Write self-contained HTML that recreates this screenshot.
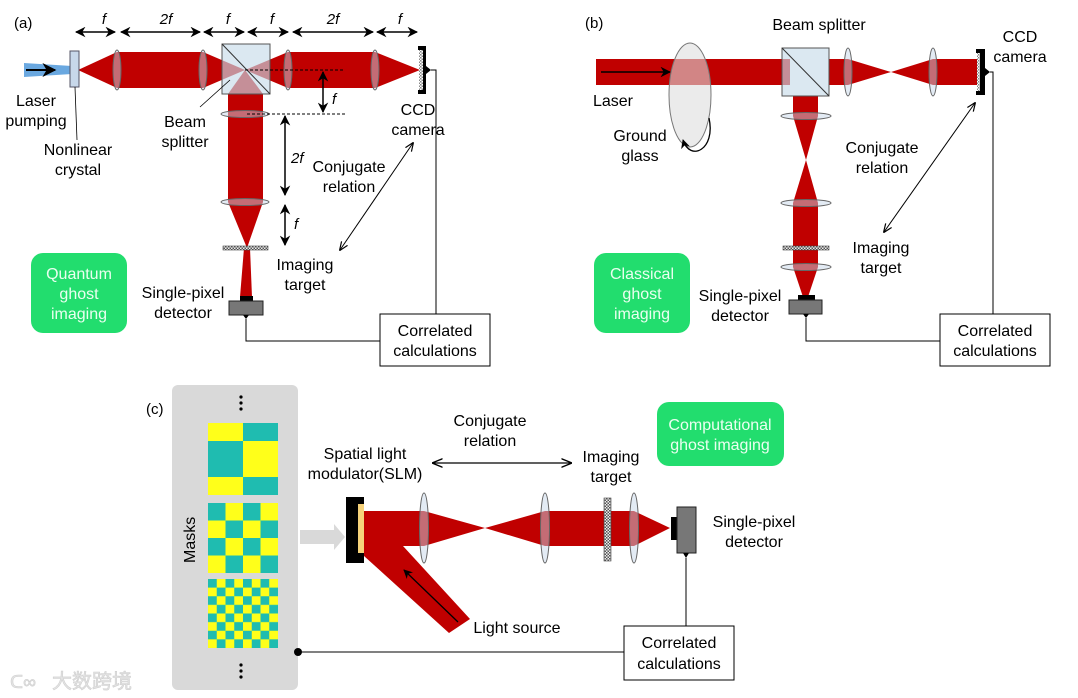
<!DOCTYPE html>
<html><head><meta charset="utf-8"><style>
html,body{margin:0;padding:0;background:#fff;}
svg{display:block;font-family:"Liberation Sans",Arial,sans-serif;}
</style></head><body>
<svg width="1078" height="698" viewBox="0 0 1078 698" xmlns="http://www.w3.org/2000/svg">
<defs>
<marker id="ah" viewBox="0 0 10 10" refX="9" refY="5" markerWidth="7" markerHeight="7" orient="auto-start-reverse"><path d="M0,0 L10,5 L0,10 L3,5 z" fill="#000"/></marker>
<marker id="ah2" viewBox="0 0 10 10" refX="9" refY="5" markerWidth="9" markerHeight="9" orient="auto-start-reverse"><path d="M0,1 L10,5 L0,9" fill="none" stroke="#000" stroke-width="1.3"/></marker>
<pattern id="hat" width="3" height="3" patternUnits="userSpaceOnUse"><rect width="3" height="3" fill="#eee"/><rect width="1.5" height="1.5" fill="#555"/><rect x="1.5" y="1.5" width="1.5" height="1.5" fill="#555"/></pattern>
<pattern id="ccd" width="3" height="3" patternUnits="userSpaceOnUse"><rect width="3" height="3" fill="#fff"/><rect width="1.5" height="1.5" fill="#888"/><rect x="1.5" y="1.5" width="1.5" height="1.5" fill="#888"/></pattern>
<pattern id="m2" width="35" height="35" patternUnits="userSpaceOnUse" x="208" y="503"><rect width="35" height="35" fill="#ffff1a"/><rect width="17.5" height="17.5" fill="#1fbcb0"/><rect x="17.5" y="17.5" width="17.5" height="17.5" fill="#1fbcb0"/></pattern>
<pattern id="m3" width="17.5" height="17.25" patternUnits="userSpaceOnUse" x="208" y="579"><rect width="17.5" height="17.25" fill="#ffff1a"/><rect width="8.75" height="8.6" fill="#1fbcb0"/><rect x="8.75" y="8.6" width="8.75" height="8.65" fill="#1fbcb0"/></pattern>
</defs>

<g font-size="15" fill="#000">
<!-- ============ (a) ============ -->
<text x="14" y="28">(a)</text>
<g stroke="#000" stroke-width="1.5" marker-start="url(#ah)" marker-end="url(#ah)">
<line x1="76" y1="32" x2="115" y2="32"/><line x1="121" y1="32" x2="200" y2="32"/>
<line x1="204" y1="32" x2="244" y2="32"/><line x1="248" y1="32" x2="288" y2="32"/>
<line x1="293" y1="32" x2="373" y2="32"/><line x1="377" y1="32" x2="417" y2="32"/>
</g>
<g font-style="italic" text-anchor="middle" font-size="15">
<text x="104" y="24">f</text><text x="166" y="24">2<tspan>f</tspan></text><text x="228" y="24">f</text>
<text x="272" y="24">f</text><text x="333" y="24">2f</text><text x="400" y="24">f</text>
</g>
<!-- blue pump -->
<polygon points="24,63 72,66 72,74 24,77" fill="#6aa8e0"/>
<line x1="26" y1="70" x2="55" y2="70" stroke="#000" stroke-width="2" marker-end="url(#ah)"/>
<!-- red beams -->
<polygon points="78,70 117,52 117,88" fill="#c00000"/>
<rect x="117" y="52" width="86" height="36" fill="#c00000"/>
<polygon points="203,52 245,70 203,88" fill="#c00000"/>
<polygon points="245,70 288,52 288,88" fill="#c00000"/>
<rect x="288" y="52" width="87" height="36" fill="#c00000"/>
<polygon points="375,52 420,70 375,88" fill="#c00000"/>
<polygon points="245,70 228,94 263,94" fill="#c00000"/>
<rect x="228" y="94" width="35" height="108" fill="#c00000"/>
<polygon points="228,202 263,202 247,248" fill="#c00000"/>
<polygon points="244,248 250,248 252,297 240,297" fill="#c00000"/>
<!-- crystal -->
<rect x="70" y="51" width="9" height="36" fill="#c8d8ea" stroke="#556" stroke-width="1"/>
<!-- lenses -->
<g fill="#c8d8ea" fill-opacity="0.5" stroke="#666" stroke-width="1">
<ellipse cx="117" cy="70" rx="4" ry="20"/><ellipse cx="203" cy="70" rx="4" ry="20"/>
<ellipse cx="288" cy="70" rx="4" ry="20"/><ellipse cx="375" cy="70" rx="4" ry="20"/>
<ellipse cx="245" cy="114" rx="24" ry="3.5"/><ellipse cx="245" cy="202" rx="24" ry="3.5"/>
</g>
<!-- BS -->
<rect x="222" y="44" width="48" height="50" fill="#c8dcea" fill-opacity="0.65" stroke="#555" stroke-width="1"/>
<line x1="222" y1="44" x2="270" y2="94" stroke="#333" stroke-width="1"/>
<!-- target -->
<rect x="223" y="246" width="45" height="4" fill="url(#hat)" stroke="#444" stroke-width="0.6"/>
<!-- detector -->
<rect x="240" y="296" width="13" height="5" fill="#000"/>
<rect x="229" y="301" width="34" height="14" fill="#777" stroke="#222" stroke-width="1"/>
<polygon points="243,315 249,315 246,319" fill="#000"/>
<!-- CCD -->
<path d="M418,46 h8 v48 h-8 v-4 h3 v-40 h-3 z" fill="#000"/>
<rect x="419" y="50" width="4" height="40" fill="url(#ccd)"/>
<polygon points="426,66 431,70 426,74" fill="#000"/>
<polyline points="431,70 436,70 436,314" fill="none" stroke="#000" stroke-width="1"/>
<polyline points="246,319 246,341 380,341" fill="none" stroke="#000" stroke-width="1"/>
<rect x="380" y="314" width="110" height="52" fill="#fff" stroke="#000" stroke-width="1"/>
<text x="435" y="336" text-anchor="middle" font-size="16">Correlated</text>
<text x="435" y="356" text-anchor="middle" font-size="16">calculations</text>
<!-- dashed -->
<line x1="245" y1="70" x2="345" y2="70" stroke="#000" stroke-width="1" stroke-dasharray="3,2"/>
<line x1="247" y1="114" x2="347" y2="114" stroke="#000" stroke-width="1" stroke-dasharray="3,2"/>
<g stroke="#000" stroke-width="1.5" marker-start="url(#ah)" marker-end="url(#ah)">
<line x1="323" y1="72" x2="323" y2="112"/><line x1="285" y1="116" x2="285" y2="195"/><line x1="285" y1="205" x2="285" y2="245"/>
</g>
<g font-style="italic" font-size="15"><text x="332" y="104">f</text><text x="291" y="163">2f</text><text x="294" y="229">f</text></g>
<line x1="413" y1="143" x2="340" y2="250" stroke="#000" stroke-width="1" marker-start="url(#ah2)" marker-end="url(#ah2)"/>
<line x1="75" y1="87" x2="77" y2="140" stroke="#000" stroke-width="0.8"/>
<line x1="230" y1="80" x2="200" y2="107" stroke="#000" stroke-width="0.8"/>
<g text-anchor="middle" font-size="16">
<text x="36" y="106">Laser</text><text x="36" y="126">pumping</text>
<text x="78" y="155">Nonlinear</text><text x="78" y="175">crystal</text>
<text x="185" y="127">Beam</text><text x="185" y="147">splitter</text>
<text x="418" y="115">CCD</text><text x="418" y="135">camera</text>
<text x="349" y="172">Conjugate</text><text x="349" y="192">relation</text>
<text x="305" y="270">Imaging</text><text x="305" y="290">target</text>
<text x="183" y="298">Single-pixel</text><text x="183" y="318">detector</text>
</g>
<rect x="31" y="253" width="96" height="80" rx="12" fill="#22dd6e"/>
<g text-anchor="middle" font-size="16" fill="#eafff0">
<text x="79" y="279">Quantum</text><text x="79" y="299">ghost</text><text x="79" y="319">imaging</text></g>

<!-- ============ (b) ============ -->
<text x="585" y="28">(b)</text>
<text x="819" y="30" text-anchor="middle" font-size="16">Beam splitter</text>
<rect x="596" y="59" width="194" height="26" fill="#c00000"/>
<line x1="601" y1="72" x2="670" y2="72" stroke="#000" stroke-width="1.5" marker-end="url(#ah)"/>
<ellipse cx="690" cy="95" rx="21" ry="52" fill="#ddd" fill-opacity="0.6" stroke="#777" stroke-width="1"/>
<path d="M709,118 C716,150 690,162 683,140" fill="none" stroke="#000" stroke-width="1.3" marker-end="url(#ah)"/>
<rect x="829" y="59" width="19" height="26" fill="#c00000"/>
<polygon points="848,59 891,72 848,85" fill="#c00000"/>
<polygon points="891,72 933,59 933,85" fill="#c00000"/>
<rect x="933" y="59" width="44" height="26" fill="#c00000"/>
<rect x="793" y="96" width="25" height="20" fill="#c00000"/>
<polygon points="793,116 818,116 806,160" fill="#c00000"/>
<polygon points="806,160 793,203 818,203" fill="#c00000"/>
<rect x="793" y="203" width="25" height="64" fill="#c00000"/>
<polygon points="793,267 818,267 808,297 803,297" fill="#c00000"/>
<rect x="782" y="48" width="47" height="48" fill="#c8dcea" fill-opacity="0.65" stroke="#555" stroke-width="1"/>
<line x1="782" y1="48" x2="829" y2="96" stroke="#333" stroke-width="1"/>
<g fill="#c8d8ea" fill-opacity="0.5" stroke="#666" stroke-width="1">
<ellipse cx="848" cy="72" rx="4" ry="24"/><ellipse cx="933" cy="72" rx="4" ry="24"/>
<ellipse cx="806" cy="116" rx="25" ry="3.5"/><ellipse cx="806" cy="203" rx="25" ry="3.5"/><ellipse cx="806" cy="267" rx="25" ry="3.5"/>
</g>
<rect x="783" y="246" width="46" height="4" fill="url(#hat)" stroke="#444" stroke-width="0.6"/>
<path d="M976,49 h9 v46 h-9 v-4 h3 v-38 h-3 z" fill="#000"/>
<rect x="977" y="53" width="3" height="38" fill="url(#ccd)"/>
<polygon points="985,68 990,72 985,76" fill="#000"/>
<polyline points="990,72 993,72 993,314" fill="none" stroke="#000" stroke-width="1"/>
<rect x="798" y="295" width="17" height="5" fill="#000"/>
<rect x="789" y="300" width="33" height="14" fill="#777" stroke="#222" stroke-width="1"/>
<polygon points="803,314 809,314 806,318" fill="#000"/>
<polyline points="806,318 806,341 940,341" fill="none" stroke="#000" stroke-width="1"/>
<rect x="940" y="314" width="110" height="52" fill="#fff" stroke="#000" stroke-width="1"/>
<text x="995" y="336" text-anchor="middle" font-size="16">Correlated</text>
<text x="995" y="356" text-anchor="middle" font-size="16">calculations</text>
<line x1="975" y1="103" x2="884" y2="232" stroke="#000" stroke-width="1" marker-start="url(#ah2)" marker-end="url(#ah2)"/>
<g text-anchor="middle" font-size="16">
<text x="1020" y="42">CCD</text><text x="1020" y="62">camera</text>
<text x="613" y="106">Laser</text>
<text x="640" y="141">Ground</text><text x="640" y="161">glass</text>
<text x="882" y="153">Conjugate</text><text x="882" y="173">relation</text>
<text x="881" y="253">Imaging</text><text x="881" y="273">target</text>
<text x="740" y="301">Single-pixel</text><text x="740" y="321">detector</text>
</g>
<rect x="594" y="253" width="96" height="80" rx="12" fill="#22dd6e"/>
<g text-anchor="middle" font-size="16" fill="#eafff0">
<text x="642" y="279">Classical</text><text x="642" y="299">ghost</text><text x="642" y="319">imaging</text></g>

<!-- ============ (c) ============ -->
<text x="146" y="414">(c)</text>
<rect x="172" y="385" width="126" height="305" rx="6" fill="#d9d9d9"/>
<g fill="#000"><circle cx="241" cy="397" r="1.6"/><circle cx="241" cy="403" r="1.6"/><circle cx="241" cy="409" r="1.6"/>
<circle cx="241" cy="665" r="1.6"/><circle cx="241" cy="671" r="1.6"/><circle cx="241" cy="677" r="1.6"/></g>
<text x="0" y="0" transform="translate(195,563) rotate(-90)" font-size="16">Masks</text>
<!-- mask1 -->
<rect x="208" y="423" width="35" height="18" fill="#ffff1a"/><rect x="243" y="423" width="35" height="18" fill="#1fbcb0"/>
<rect x="208" y="441" width="35" height="36" fill="#1fbcb0"/><rect x="243" y="441" width="35" height="36" fill="#ffff1a"/>
<rect x="208" y="477" width="35" height="18" fill="#ffff1a"/><rect x="243" y="477" width="35" height="18" fill="#1fbcb0"/>
<rect x="208" y="503" width="70" height="70" fill="url(#m2)"/>
<rect x="208" y="579" width="70" height="69" fill="url(#m3)"/>
<polygon points="300,530 334,530 334,524 345,537 334,550 334,544 300,544" fill="#d9d9d9"/>
<!-- beams -->
<polygon points="364,540 403,546 470,619 449,633 364,556" fill="#c00000"/>
<polygon points="364,511 424,511 485,528 424,546 364,546" fill="#c00000"/>
<polygon points="485,528 545,511 634,511 670,528 634,546 545,546" fill="#c00000"/>
<line x1="458" y1="622" x2="404" y2="570" stroke="#000" stroke-width="1.3" marker-end="url(#ah)"/>
<rect x="346" y="497" width="12" height="66" fill="#000"/>
<rect x="358" y="497" width="6" height="7" fill="#000"/><rect x="358" y="553" width="6" height="10" fill="#000"/>
<rect x="358" y="504" width="6" height="49" fill="#f6d27a"/>
<g fill="#c8d8ea" fill-opacity="0.5" stroke="#666" stroke-width="1">
<ellipse cx="424" cy="528" rx="4.5" ry="35"/><ellipse cx="545" cy="528" rx="4.5" ry="35"/><ellipse cx="634" cy="528" rx="4.5" ry="35"/>
</g>
<rect x="604" y="498" width="7" height="63" fill="url(#hat)" stroke="#444" stroke-width="0.6"/>
<rect x="671" y="517" width="6" height="23" fill="#000"/>
<rect x="677" y="507" width="19" height="46" fill="#777" stroke="#222" stroke-width="1"/>
<polygon points="683,553 689,553 686,558" fill="#000"/>
<line x1="686" y1="558" x2="686" y2="626" stroke="#000" stroke-width="1"/>
<rect x="624" y="626" width="110" height="54" fill="#fff" stroke="#000" stroke-width="1"/>
<text x="679" y="648" text-anchor="middle" font-size="16">Correlated</text>
<text x="679" y="669" text-anchor="middle" font-size="16">calculations</text>
<circle cx="298" cy="652" r="4" fill="#000"/>
<line x1="298" y1="652" x2="624" y2="652" stroke="#000" stroke-width="1"/>
<line x1="433" y1="463" x2="571" y2="463" stroke="#000" stroke-width="1.2" marker-start="url(#ah2)" marker-end="url(#ah2)"/>
<g text-anchor="middle" font-size="16">
<text x="490" y="426">Conjugate</text><text x="490" y="446">relation</text>
<text x="365" y="459">Spatial light</text><text x="365" y="479">modulator(SLM)</text>
<text x="611" y="462">Imaging</text><text x="611" y="482">target</text>
<text x="754" y="527">Single-pixel</text><text x="754" y="547">detector</text>
<text x="517" y="633">Light source</text>
</g>
<rect x="657" y="402" width="127" height="64" rx="12" fill="#22dd6e"/>
<g text-anchor="middle" font-size="16" fill="#eafff0"><text x="720" y="430">Computational</text><text x="720" y="450">ghost imaging</text></g>
<text x="52" y="688" font-size="20" fill="#e4e4e4" stroke="#cfcfcf" stroke-width="0.6" font-family="'Liberation Sans','Noto Sans CJK SC',sans-serif">大数跨境</text>
<text x="10" y="688" font-size="18" fill="#e4e4e4" stroke="#cfcfcf" stroke-width="0.6">ᑕ∞</text>
</g>
</svg>
</body></html>
